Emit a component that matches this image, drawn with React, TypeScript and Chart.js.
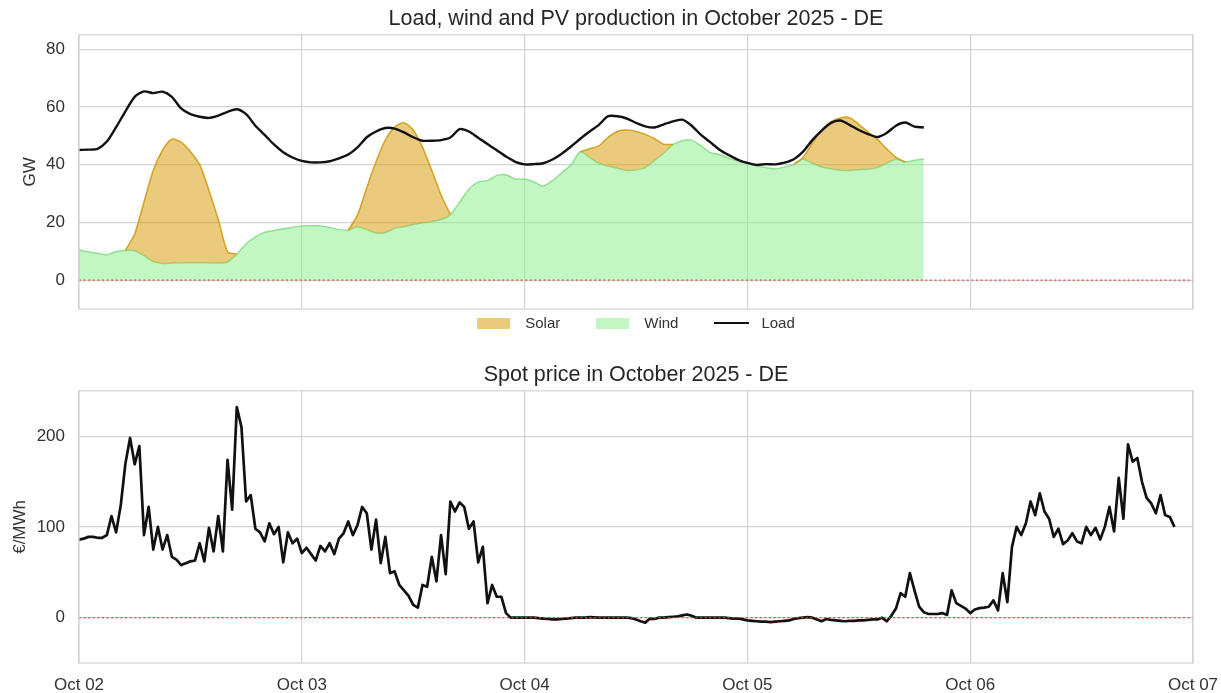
import React, { useEffect, useRef } from 'react';
import { Chart, registerables } from 'chart.js';

Chart.register(...registerables);

// ---------------- data ----------------
const DAY_TICK_LABELS = ['Oct 02', 'Oct 03', 'Oct 04', 'Oct 05', 'Oct 06', 'Oct 07'];
const HOURS_PER_DAY = 24;
const GEN_STEP_HOURS = 1; // hourly generation / load values starting Oct 02 00:00
const PRICE_STEP_HOURS = 0.5; // half-hourly spot prices starting Oct 02 00:00
const GW_TICKS = [0, 20, 40, 60, 80];
const PRICE_TICKS = [0, 100, 200];
const GW_RANGE = [-10, 85];
const PRICE_RANGE = [-50, 250];
const ZERO_LINE = 0;

const LOAD_GW = [
  45.1, 45.2, 45.5, 48.0, 53.0, 58.5, 63.5, 65.4, 64.8, 65.3, 63.5, 59.5,
  57.5, 56.6, 56.2, 57.0, 58.3, 59.2, 57.5, 53.5, 50.3, 47.0, 44.3, 42.5,
  41.3, 40.8, 40.8, 41.2, 42.2, 43.5, 46.0, 49.5, 51.5, 52.7, 52.5, 51.2,
  49.5, 48.3, 48.3, 48.5, 49.4, 52.3, 51.5, 49.3, 47.2, 45.0, 42.8, 41.0,
  40.1, 40.2, 40.5, 41.8, 43.8, 46.3, 49.0, 51.5, 53.8, 56.8, 56.8, 56.0,
  54.5, 53.3, 52.9, 54.0, 55.0, 55.6, 53.5, 50.3, 47.8, 45.2, 43.3, 41.7,
  40.6, 39.9, 40.2, 40.1, 40.7, 41.9, 44.5, 48.5, 51.8, 54.5, 55.3, 53.8,
  52.0, 50.6, 49.6, 51.0, 53.5, 54.6, 53.2, 52.9,
];

const WIND_GW = [
  10.5, 9.8, 9.3, 8.8, 9.9, 10.3, 10.2, 8.5, 6.4, 5.8, 5.9, 6.0,
  6.0, 6.0, 6.0, 5.9, 6.3, 9.0, 12.5, 15.0, 16.6, 17.2, 17.8, 18.3,
  18.8, 18.8, 18.8, 18.2, 17.5, 17.3, 18.5, 17.5, 16.3, 16.5, 18.0, 18.5,
  19.3, 19.8, 20.3, 21.0, 22.7, 27.0, 31.5, 34.0, 34.5, 36.3, 36.5, 35.0,
  35.0, 34.0, 32.6, 34.5, 37.2, 40.0, 44.5, 42.5, 40.5, 39.5, 38.8, 38.0,
  38.2, 39.0, 41.5, 44.0, 47.0, 48.3, 48.5, 46.5, 44.2, 43.5, 42.2, 41.2,
  40.5, 39.5, 39.0, 38.6, 39.2, 40.1, 41.9, 40.5, 39.2, 38.6, 38.1, 38.0,
  38.3, 38.4, 39.0, 40.5, 41.9, 40.9, 41.5, 42.0,
];

const SOLAR_GW = [
  0, 0, 0, 0, 0, 0, 5.8, 18.5, 31.6, 39.2, 42.9, 41.8,
  38.5, 34.0, 25.0, 15.1, 3.5, 0, 0, 0, 0, 0, 0, 0,
  0, 0, 0, 0, 0, 0, 4.0, 14.5, 24.7, 32.0, 35.0, 36.0,
  32.7, 26.2, 17.7, 8.5, 0, 0, 0, 0, 0, 0, 0, 0,
  0, 0, 0, 0, 0, 0, 0, 3.0, 6.0, 10.0, 12.7, 14.0,
  13.3, 11.5, 7.5, 3.1, 0, 0, 0, 0, 0, 0, 0, 0,
  0, 0, 0, 0, 0, 0, 0.6, 7.0, 12.8, 16.2, 18.1, 18.3,
  15.7, 12.9, 9.8, 5.0, 0.6, 0, 0, 0,
];

const SPOT_PRICE_EUR_MWH = [
  86, 87, 89, 89, 88, 88, 91, 112, 94, 124, 170, 198,
  169, 189, 91, 122, 75, 100, 75, 91, 67, 64, 58, 60,
  62, 63, 82, 62, 99, 73, 112, 73, 174, 119, 232, 210,
  128, 135, 98, 94, 84, 104, 92, 100, 61, 94, 82, 87,
  71, 77, 70, 63, 79, 73, 82, 70, 87, 93, 106, 91,
  102, 122, 115, 75, 108, 60, 89, 49, 51, 36, 30, 24,
  14, 11, 36, 34, 67, 40, 91, 48, 128, 117, 127, 122,
  98, 106, 61, 78, 16, 36, 23, 23, 5, 0, 0, 0,
  0, 0, 0, -0.5, -1, -1.5, -2, -2, -1.5, -1, -0.5, 0,
  0, 0, 0.5, 0.3, 0, 0, 0, 0, 0, 0, 0, -0.5,
  -2, -4, -5.5, -1, -1.5, 0, 0, 0.5, 1, 1.5, 2.5, 3.5,
  2, 0, 0, 0, 0, 0, 0, 0, -0.5, -1, -1, -2,
  -3, -3.5, -4, -4.5, -4.5, -5, -4.5, -4, -3.5, -3, -1.5, -0.5,
  0, 0.5, 0, -2, -4, -1.5, -2.5, -3, -3.5, -4, -3.5, -3.5,
  -3, -3, -2.5, -2, -2, 0, -4, 2, 10, 27, 23, 49,
  30, 12, 6, 4, 4, 4, 5, 3, 30, 16, 13, 10,
  5, 9, 10.5, 11, 12, 19, 8, 49, 17, 78, 100, 91,
  104, 128, 113, 137, 117, 109, 89, 98, 81, 85, 93, 84,
  82, 100, 91, 99, 86, 100, 122, 95, 154, 109, 191, 172,
  176, 150, 132, 126, 115, 135, 113, 111, 100,
];

// ---------------- style ----------------
const FONT = '"Liberation Sans", Arial, Helvetica, sans-serif';
const TEXT = '#333333';
const TITLE_TEXT = '#262626';
const GRID = '#d3d3d3';
const SOLAR_FILL = 'rgba(218, 165, 32, 0.58)';
const SOLAR_EDGE = 'rgba(212, 160, 30, 0.95)';
const WIND_FILL = 'rgba(144, 238, 144, 0.55)';
const WIND_EDGE = 'rgba(120, 215, 120, 0.75)';
const LINE_BLACK = '#111111';

const PLOT_LEFT = 79;
const PLOT_RIGHT_PAD = 28;

const toPoints = (values: number[], step: number) =>
  values.map((v, i) => ({ x: i * step, y: v }));

const framePlugin = {
  id: 'frameAndZero',
  afterDatasetsDraw(chart: any) {
    const { ctx, chartArea, scales } = chart;
    const y0 = scales.y.getPixelForValue(ZERO_LINE);
    ctx.save();
    ctx.strokeStyle = 'rgba(215, 70, 55, 0.9)';
    ctx.lineWidth = 1.3;
    ctx.setLineDash([2, 2.6]);
    ctx.beginPath();
    ctx.moveTo(chartArea.left, y0);
    ctx.lineTo(chartArea.right, y0);
    ctx.stroke();
    ctx.setLineDash([]);
    ctx.strokeStyle = GRID;
    ctx.lineWidth = 1.2;
    ctx.strokeRect(chartArea.left, chartArea.top, chartArea.right - chartArea.left, chartArea.bottom - chartArea.top);
    ctx.restore();
  },
};

function xScale(showTicks: boolean) {
  return {
    type: 'linear' as const,
    min: 0,
    max: (DAY_TICK_LABELS.length - 1) * HOURS_PER_DAY,
    afterBuildTicks: (scale: any) => {
      scale.ticks = DAY_TICK_LABELS.map((_, i) => ({ value: i * HOURS_PER_DAY }));
    },
    afterFit: (scale: any) => {
      scale.height = showTicks ? 30 : 0;
      scale.paddingLeft = 0;
      scale.paddingRight = 0;
    },
    grid: { color: GRID, lineWidth: 1.2, drawTicks: false },
    border: { display: false },
    ticks: {
      display: showTicks,
      padding: 12,
      maxRotation: 0,
      autoSkip: false,
      color: TEXT,
      font: { family: FONT, size: 17 },
      callback: (_v: any, index: number) => DAY_TICK_LABELS[index],
    },
  };
}

function yScale(range: number[], ticks: number[], title: string, titleGap: number) {
  return {
    type: 'linear' as const,
    min: range[0],
    max: range[1],
    afterBuildTicks: (scale: any) => {
      scale.ticks = ticks.map((v) => ({ value: v }));
    },
    afterFit: (scale: any) => {
      scale.width = PLOT_LEFT;
    },
    grid: { color: GRID, lineWidth: 1.2, drawTicks: false },
    border: { display: false },
    ticks: {
      padding: 14,
      color: TEXT,
      font: { family: FONT, size: 17 },
      callback: (v: any) => String(v),
    },
    title: {
      display: true,
      text: title,
      color: TEXT,
      font: { family: FONT, size: 17 },
      padding: { top: titleGap, bottom: 0 },
    },
  };
}

function generationConfig(): any {
  const solarTop = SOLAR_GW.map((s, i) => {
    const active = s > 0 || (SOLAR_GW[i - 1] ?? 0) > 0 || (SOLAR_GW[i + 1] ?? 0) > 0;
    return { x: i * GEN_STEP_HOURS, y: active ? WIND_GW[i] + s : null };
  });
  return {
    type: 'line',
    data: {
      datasets: [
        {
          label: 'Load',
          data: toPoints(LOAD_GW, GEN_STEP_HOURS),
          borderColor: LINE_BLACK,
          borderWidth: 2.4,
          pointRadius: 0,
          fill: false,
          tension: 0.25,
        },
        {
          label: 'Solar',
          data: solarTop,
          borderColor: SOLAR_EDGE,
          backgroundColor: SOLAR_FILL,
          borderWidth: 1.6,
          pointRadius: 0,
          fill: 2,
          spanGaps: false,
          tension: 0.25,
        },
        {
          label: 'Wind',
          data: toPoints(WIND_GW, GEN_STEP_HOURS),
          borderColor: WIND_EDGE,
          backgroundColor: WIND_FILL,
          borderWidth: 1.5,
          pointRadius: 0,
          fill: 'origin',
          tension: 0.25,
        },
      ],
    },
    options: {
      responsive: false,
      animation: false,
      devicePixelRatio: 1,
      events: [],
      layout: { padding: { left: 0, right: PLOT_RIGHT_PAD, top: 0, bottom: 31 } },
      plugins: {
        legend: { display: false },
        tooltip: { enabled: false },
        title: {
          display: true,
          text: 'Load, wind and PV production in October 2025 - DE',
          fullSize: false,
          color: TITLE_TEXT,
          font: { family: FONT, size: 21.5, weight: 'normal' },
          padding: { top: 6, bottom: 3 },
        },
      },
      scales: {
        x: xScale(false),
        y: yScale(GW_RANGE, GW_TICKS, 'GW', 20),
      },
    },
    plugins: [framePlugin],
  };
}

function priceConfig(): any {
  return {
    type: 'line',
    data: {
      datasets: [
        {
          label: 'Spot price',
          data: toPoints(SPOT_PRICE_EUR_MWH, PRICE_STEP_HOURS),
          borderColor: LINE_BLACK,
          borderWidth: 2.7,
          borderJoinStyle: 'round',
          pointRadius: 0,
          fill: false,
          tension: 0,
        },
      ],
    },
    options: {
      responsive: false,
      animation: false,
      devicePixelRatio: 1,
      events: [],
      layout: { padding: { left: 0, right: PLOT_RIGHT_PAD, top: 0, bottom: 0 } },
      plugins: {
        legend: { display: false },
        tooltip: { enabled: false },
        title: {
          display: true,
          text: 'Spot price in October 2025 - DE',
          fullSize: false,
          color: TITLE_TEXT,
          font: { family: FONT, size: 21.5, weight: 'normal' },
          padding: { top: 22, bottom: 3 },
        },
      },
      scales: {
        x: xScale(true),
        y: yScale(PRICE_RANGE, PRICE_TICKS, '€/MWh', 10),
      },
    },
    plugins: [framePlugin],
  };
}

function ChartCanvas({ makeConfig, top, height }: { makeConfig: () => any; top: number; height: number }) {
  const ref = useRef<HTMLCanvasElement | null>(null);
  useEffect(() => {
    if (!ref.current) return;
    const chart = new Chart(ref.current, makeConfig());
    return () => chart.destroy();
  }, [makeConfig]);
  return (
    <canvas
      ref={ref}
      width={1221}
      height={height}
      style={{ position: 'absolute', left: 0, top, width: 1221, height, display: 'block' }}
    />
  );
}

const LEGEND_ITEMS = [
  { label: 'Solar', kind: 'box', color: SOLAR_FILL },
  { label: 'Wind', kind: 'box', color: WIND_FILL },
  { label: 'Load', kind: 'line', color: LINE_BLACK },
];

function Legend() {
  return (
    <div
      style={{
        position: 'absolute',
        left: PLOT_LEFT,
        width: 1221 - PLOT_LEFT - PLOT_RIGHT_PAD,
        top: 313,
        height: 20,
        display: 'flex',
        justifyContent: 'center',
        alignItems: 'center',
        gap: 36,
        fontFamily: FONT,
        fontSize: 15,
        color: TEXT,
      }}
    >
      {LEGEND_ITEMS.map((it) => (
        <div key={it.label} style={{ display: 'flex', alignItems: 'center', gap: it.kind === 'line' ? 12 : 15 }}>
          {it.kind === 'box' ? (
            <div style={{ width: 33, height: 11, background: it.color }} />
          ) : (
            <div style={{ width: 35, height: 2.5, background: it.color }} />
          )}
          <span style={{ lineHeight: '20px' }}>{it.label}</span>
        </div>
      ))}
    </div>
  );
}

export default function App() {
  return (
    <div
      style={{
        position: 'absolute',
        left: 0,
        top: 0,
        width: 1221,
        height: 693,
        background: '#ffffff',
        overflow: 'hidden',
      }}
    >
      <ChartCanvas makeConfig={generationConfig} top={0} height={340} />
      <Legend />
      <ChartCanvas makeConfig={priceConfig} top={340} height={353} />
    </div>
  );
}
